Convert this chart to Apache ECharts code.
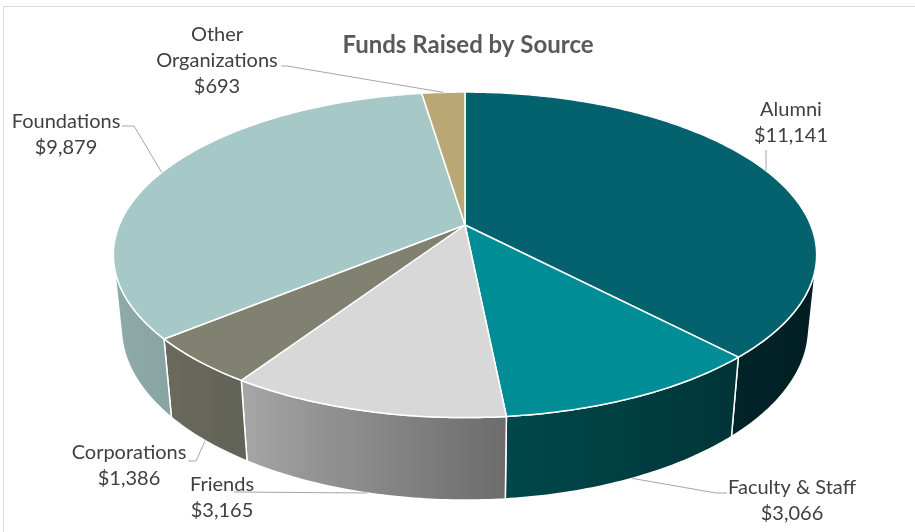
<!DOCTYPE html>
<html>
<head>
<meta charset="utf-8">
<script src="https://cdn.jsdelivr.net/npm/echarts@6/dist/echarts.min.js"></script>
<style>
  html, body { margin: 0; padding: 0; background: #fff; }
  #chart { width: 915px; height: 532px; }
</style>
</head>
<body>
<div id="chart"></div>
<script>
// Funds raised, by source (clockwise from 12 o'clock)
const categories = ['Alumni', 'Faculty & Staff', 'Friends', 'Corporations', 'Foundations', 'Other Organizations'];
const labelNames = ['Alumni', 'Faculty & Staff', 'Friends', 'Corporations', 'Foundations', 'Other\nOrganizations'];
const values = [11141, 3066, 3165, 1386, 9879, 693];
const sliceColors = ['#04616E', '#008D95', '#D8D8D8', '#808171', '#A6C8C6', '#B9A774'];

// ---- layout & styling ----
const FONT = 'Lato, "Noto Sans", sans-serif';
const CX = 465, CY = 225;           // projected pie centre
const F = 1680;                     // focal length (px)
const DIST = 4.86;                  // camera distance (in radii)
const TILT_S = 0.455, TILT_C = 0.8905; // sin / cos of viewing elevation
const THICK = 0.239;                // pie thickness (in radii)
// wall faces the camera where -cos(phi) > 1 / (DIST * cos)
const VIS_Z = 1 / (DIST * TILT_C);
const VIS0 = Math.acos(-VIS_Z) * 180 / Math.PI;
const VIS1 = 360 - VIS0;

// label boxes: centre x, top y, and the leader line's label-side points
const labelLayout = [
  { x: 791, y: 97,  lead: [[null, 150]] },
  { x: 792, y: 475, lead: [[727, 493], [716, 493]] },
  { x: 222, y: 472, lead: [[234, 492]] },
  { x: 129, y: 440, lead: [[188, 461], [196, 461]] },
  { x: 66,  y: 109, lead: [[122, 126], [134, 126]] },
  { x: 217, y: 22,  lead: [[281, 66], [287, 66]] }
];

const total = values.reduce((a, b) => a + b, 0);
const cum = [0];
values.forEach((v, i) => cum.push(cum[i] + v));

function project(phiDeg, yUp) {
  const p = phiDeg * Math.PI / 180;
  const x = Math.sin(p), z = -Math.cos(p);
  const depth = DIST - yUp * TILT_S - z * TILT_C;
  return [CX + F * x / depth, CY + F * (-yUp * TILT_C + z * TILT_S) / depth];
}

function arc(a, b, yUp) {
  const pts = [];
  const n = Math.max(2, Math.ceil(Math.abs(b - a) / 0.75));
  for (let k = 0; k <= n; k++) pts.push(project(a + (b - a) * k / n, yUp));
  return pts;
}

// side-wall brightness as a function of rim angle (light from the left)
const shadeTable = [[100, 0.28], [137, 0.37], [174, 0.50], [213, 0.77], [232, 0.83], [262, 0.87]];
function shadeFactor(phi) {
  if (phi <= shadeTable[0][0]) return shadeTable[0][1];
  for (let k = 1; k < shadeTable.length; k++) {
    if (phi <= shadeTable[k][0]) {
      const [a0, f0] = shadeTable[k - 1], [a1, f1] = shadeTable[k];
      return f0 + (f1 - f0) * (phi - a0) / (a1 - a0);
    }
  }
  return shadeTable[shadeTable.length - 1][1];
}
function shade(hex, f) {
  const n = parseInt(hex.slice(1), 16);
  const r = Math.round(((n >> 16) & 255) * f), g = Math.round(((n >> 8) & 255) * f), b = Math.round((n & 255) * f);
  return 'rgb(' + r + ',' + g + ',' + b + ')';
}
function money(v) { return '$' + v.toLocaleString('en-US'); }

function renderSlice(params, api) {
  const i = params.dataIndex;
  const v = api.value(0);
  const start = cum[i] / total * 360;
  const end = start + v / total * 360;
  const base = sliceColors[i];
  const children = [];

  // outer wall (only the part facing the viewer)
  const a = Math.max(start, VIS0), b = Math.min(end, VIS1);
  if (b > a) {
    const top = arc(a, b, 0);
    const bottom = arc(b, a, -THICK);
    const xs = [];
    const nS = Math.max(2, Math.ceil((b - a) / 2));
    for (let k = 0; k <= nS; k++) {
      const phi = a + (b - a) * k / nS;
      xs.push([project(phi, 0)[0], shade(base, shadeFactor(phi))]);
    }
    xs.sort((p, q) => p[0] - q[0]);
    const x0 = xs[0][0], x1 = xs[xs.length - 1][0];
    const stops = xs.map(p => ({ offset: Math.min(1, Math.max(0, (p[0] - x0) / (x1 - x0 || 1))), color: p[1] }));
    children.push({
      type: 'polygon',
      z2: 1,
      shape: { points: top.concat(bottom) },
      style: {
        fill: { type: 'linear', x: x0, y: 0, x2: x1, y2: 0, global: true, colorStops: stops },
        stroke: '#ffffff', lineWidth: 1.5, lineJoin: 'round'
      }
    });
  }

  // top face
  children.push({
    type: 'polygon',
    z2: 5,
    shape: { points: [[CX, CY]].concat(arc(start, end, 0)) },
    style: { fill: base, stroke: '#ffffff', lineWidth: 1.5, lineJoin: 'round' }
  });

  // leader line to the rim midpoint (bottom rim for front slices)
  const mid = (start + end) / 2;
  const front = -Math.cos(mid * Math.PI / 180) > VIS_Z;
  const anchor = project(mid, front ? -THICK : 0);
  const lay = labelLayout[i];
  const pts = lay.lead.map(p => [p[0] === null ? anchor[0] : p[0], p[1]]);
  pts.push(anchor);
  children.push({
    type: 'polyline',
    z2: 6,
    shape: { points: pts },
    style: { stroke: '#A6A6A6', lineWidth: 1, fill: null }
  });

  // data label
  children.push({
    type: 'text',
    z2: 7,
    x: lay.x,
    y: lay.y,
    style: {
      text: labelNames[i] + '\n' + money(v),
      fill: '#404040',
      font: '20px ' + FONT,
      align: 'center',
      verticalAlign: 'top',
      lineHeight: 26
    }
  });

  return { type: 'group', children };
}

const chart = echarts.init(document.getElementById('chart'), null, { renderer: 'canvas' });
chart.setOption({
  animation: false,
  backgroundColor: '#ffffff',
  title: {
    text: 'Funds Raised by Source',
    left: 463,
    top: 28,
    textAlign: 'center',
    textStyle: { fontFamily: FONT, fontWeight: 'bold', fontSize: 24, color: '#595959' }
  },
  graphic: [
    { type: 'line', shape: { x1: 3, y1: 6.5, x2: 915, y2: 6.5 }, style: { stroke: '#D9D9D9', lineWidth: 1 } },
    { type: 'line', shape: { x1: 3.5, y1: 6, x2: 3.5, y2: 532 }, style: { stroke: '#D9D9D9', lineWidth: 1 } }
  ],
  series: [{
    type: 'custom',
    coordinateSystem: 'none',
    renderItem: renderSlice,
    data: categories.map((name, i) => ({ name, value: [values[i]] }))
  }]
});
</script>
</body>
</html>
